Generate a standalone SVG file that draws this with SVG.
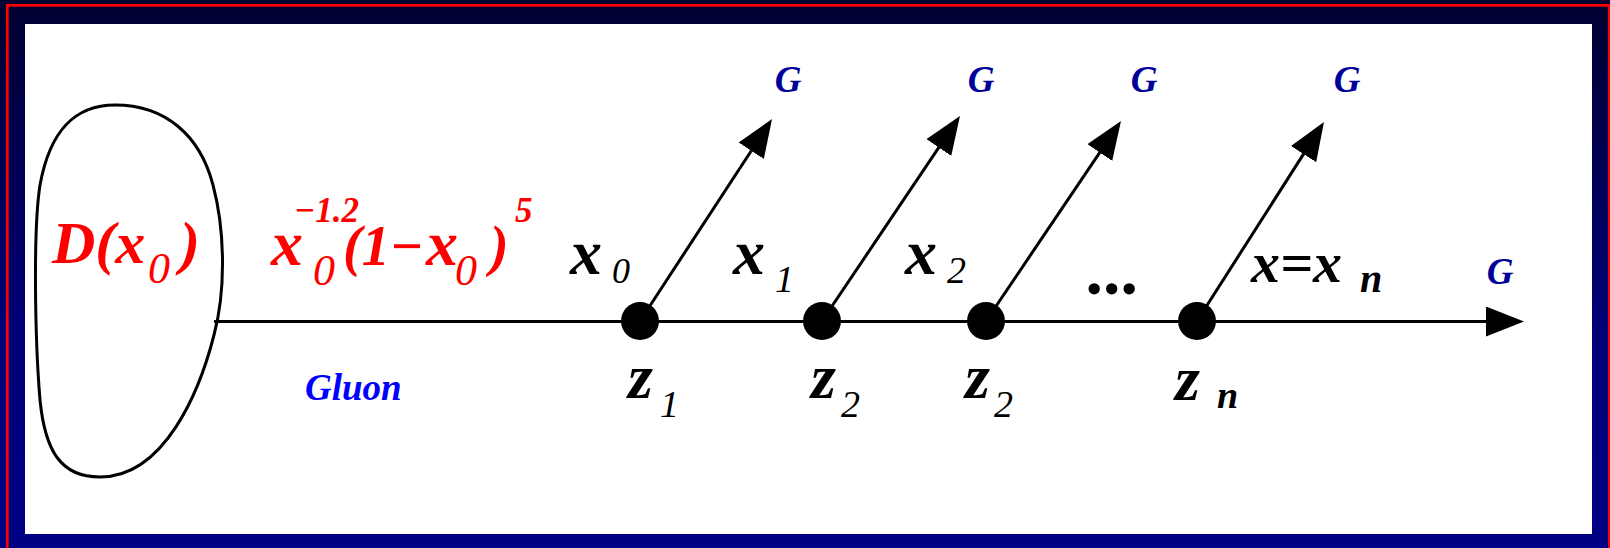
<svg xmlns="http://www.w3.org/2000/svg" width="1610" height="548" viewBox="0 0 1610 548">
  <style>
    .t { font-family: "Liberation Serif", "Times New Roman", "DejaVu Serif", serif; font-style: italic; font-weight: bold; }
    .n { font-weight: normal; }
    .red { fill: #ff0000; }
    .blk { fill: #000000; }
    .g { fill: #000099; font-size: 37px; }
    .ln { stroke: #000; stroke-width: 3; fill: none; }
  </style>
  <defs>
    <linearGradient id="bg" x1="0" y1="0" x2="0" y2="1">
      <stop offset="0" stop-color="#000030"/>
      <stop offset="0.6" stop-color="#000078"/>
      <stop offset="1" stop-color="#000085"/>
    </linearGradient>
    <marker id="ah" markerUnits="userSpaceOnUse" markerWidth="40" markerHeight="32" refX="18" refY="15" orient="auto">
      <path d="M0,0 L38,15 L0,30 z" fill="#000"/>
    </marker>
  </defs>

  <rect x="0" y="0" width="1610" height="548" fill="url(#bg)"/>
  <rect x="7.3" y="5.3" width="1602" height="560" fill="none" stroke="#ff0000" stroke-width="2.7"/>
  <rect x="25" y="24" width="1567" height="510" fill="#ffffff"/>

  <g id="connectors">
    <line class="ln" x1="214" y1="321.5" x2="1504" y2="321.5" marker-end="url(#ah)"/>
    <line class="ln" x1="640" y1="321" x2="761.1" y2="135.7" marker-end="url(#ah)"/>
    <line class="ln" x1="822" y1="321" x2="948.8" y2="132.6" marker-end="url(#ah)"/>
    <line class="ln" x1="986" y1="321" x2="1109.8" y2="137.6" marker-end="url(#ah)"/>
    <line class="ln" x1="1197" y1="321" x2="1313.2" y2="138.9" marker-end="url(#ah)"/>
  </g>

  <g id="source">
    <path class="ln" d="M115,105 C165,105 200,135 213,185 C225,230 226,290 214,335 C200,390 165,477 100,477 C60,477 45,450 40,400 C35,340 33,230 40,185 C50,130 75,105 115,105 Z"/>
    <text class="t red" x="52" y="263" font-size="60">D(x<tspan class="n" x="148" y="283" font-size="44">0</tspan><tspan x="180" y="263">)</tspan></text>
  </g>

  <g id="formula">
    <text class="t red" x="271" y="265" font-size="64">x<tspan x="294" y="222" font-size="35">−1.2</tspan><tspan class="n" x="313" y="285" font-size="44">0</tspan><tspan x="343" y="265" font-size="56">(1−</tspan><tspan x="426" font-size="64">x</tspan><tspan class="n" x="455" y="285" font-size="44">0</tspan><tspan x="490" y="265" font-size="56">)</tspan><tspan x="515" y="222" font-size="35">5</tspan></text>
    <text class="t" x="305" y="400" font-size="37" fill="#0000ff">Gluon</text>
  </g>

  <g id="v1">
    <circle cx="640" cy="321" r="19" fill="#000"/>
    <text class="t blk" x="570" y="274" font-size="64">x<tspan class="n" x="612" y="283" font-size="36">0</tspan></text>
    <text class="t blk" x="628" y="398" font-size="64">z<tspan class="n" x="660" y="417" font-size="38">1</tspan></text>
    <text class="t g" x="788" y="92" text-anchor="middle">G</text>
  </g>

  <g id="v2">
    <circle cx="822" cy="321" r="19" fill="#000"/>
    <text class="t blk" x="733" y="274" font-size="64">x<tspan class="n" x="775" y="292" font-size="38">1</tspan></text>
    <text class="t blk" x="811" y="398" font-size="64">z<tspan class="n" x="841" y="417" font-size="38">2</tspan></text>
    <text class="t g" x="981" y="92" text-anchor="middle">G</text>
  </g>

  <g id="v3">
    <circle cx="986" cy="321" r="19" fill="#000"/>
    <text class="t blk" x="905" y="274" font-size="64">x<tspan class="n" x="947" y="283" font-size="38">2</tspan></text>
    <text class="t blk" x="965" y="398" font-size="64">z<tspan class="n" x="994" y="417" font-size="38">2</tspan></text>
    <text class="t g" x="1144" y="92" text-anchor="middle">G</text>
  </g>

  <g id="ellipsis">
    <text class="t blk" x="1088" y="294" font-size="70" font-style="normal">...</text>
  </g>

  <g id="v4">
    <circle cx="1197" cy="321" r="19" fill="#000"/>
    <text class="t blk" x="1251" y="282" font-size="58">x=x<tspan x="1360" y="292" font-size="40">n</tspan></text>
    <text class="t blk" x="1175" y="400" font-size="64">z<tspan x="1217" y="408" font-size="38">n</tspan></text>
    <text class="t g" x="1347" y="92" text-anchor="middle">G</text>
  </g>

  <g id="out">
    <text class="t g" x="1500" y="284" text-anchor="middle">G</text>
  </g>
</svg>
